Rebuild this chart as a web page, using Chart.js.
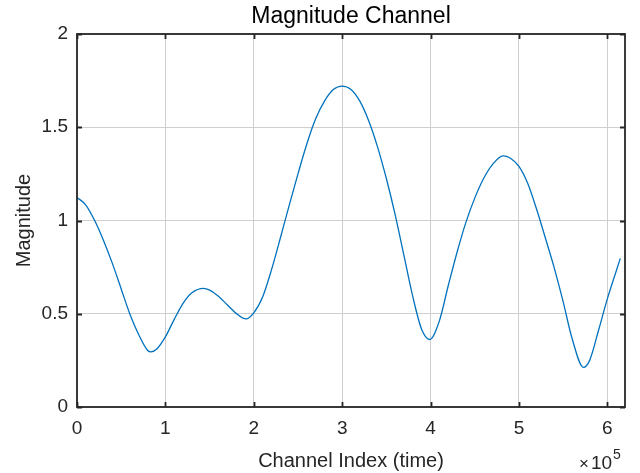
<!DOCTYPE html>
<html>
<head>
<meta charset="utf-8">
<script src="https://cdn.jsdelivr.net/npm/chart.js@4/dist/chart.umd.min.js"></script>
<style>
  html, body { margin: 0; padding: 0; background: #ffffff; }
  #wrap { width: 640px; height: 473px; }
</style>
</head>
<body>
<div id="wrap"><canvas id="c" width="640" height="473"></canvas></div>
<script>
// ---- data (channel index in units of 1e5) ----
const channelIndex = [0, 0.1, 0.2, 0.3, 0.4, 0.5, 0.6, 0.7, 0.8, 0.835,
  0.9, 1.0, 1.1, 1.2, 1.3, 1.43, 1.5, 1.6, 1.7, 1.8,
  1.91, 2.0, 2.1, 2.2, 2.3, 2.4, 2.5, 2.6, 2.7, 2.8,
  2.9, 3.0, 3.1, 3.2, 3.3, 3.4, 3.5, 3.6, 3.7, 3.8,
  3.9, 3.99, 4.1, 4.2, 4.3, 4.4, 4.5, 4.6, 4.7, 4.82,
  4.9, 5.0, 5.1, 5.2, 5.3, 5.4, 5.5, 5.6, 5.73, 5.8,
  5.9, 6.0, 6.1, 6.147];
const magnitude = [1.124, 1.083, 1.000, 0.893, 0.770, 0.633, 0.496, 0.386, 0.303, 0.296,
  0.310, 0.376, 0.470, 0.556, 0.612, 0.636, 0.627, 0.594, 0.548, 0.502,
  0.472, 0.505, 0.590, 0.735, 0.905, 1.080, 1.250, 1.410, 1.545, 1.640,
  1.702, 1.721, 1.703, 1.640, 1.535, 1.395, 1.225, 1.030, 0.810, 0.590,
  0.415, 0.362, 0.462, 0.650, 0.830, 0.990, 1.120, 1.225, 1.300, 1.347,
  1.335, 1.290, 1.198, 1.060, 0.905, 0.745, 0.565, 0.370, 0.212, 0.250,
  0.410, 0.580, 0.728, 0.797];
const indexScale = 100000;
const xTickValues = [0, 1, 2, 3, 4, 5, 6];
const yTickValues = [0, 0.5, 1, 1.5, 2];
const xRange = [0, 6.2];
const yRange = [0, 2];
const titleText = 'Magnitude Channel';
const xLabel = 'Channel Index (time)';
const yLabel = 'Magnitude';
const xExponent = '5';

const points = channelIndex.map((x, i) => ({ x: x * indexScale, y: magnitude[i] }));
const FONT = "'Liberation Sans', Arial, Helvetica, sans-serif";
const TXT = '#262626';

const boxPlugin = {
  id: 'matlabBox',
  afterDraw(chart) {
    const ctx = chart.ctx;
    const a = chart.chartArea;
    const xs = chart.scales.x, ys = chart.scales.y;
    ctx.save();
    ctx.strokeStyle = TXT;
    ctx.lineWidth = 1.8;
    const tl = 5;
    xTickValues.forEach(v => {
      const px = Math.round(xs.getPixelForValue(v * indexScale)) + 0.5;
      ctx.beginPath();
      ctx.moveTo(px, a.bottom); ctx.lineTo(px, a.bottom - tl);
      ctx.moveTo(px, a.top); ctx.lineTo(px, a.top + tl);
      ctx.stroke();
    });
    yTickValues.forEach(v => {
      const py = Math.round(ys.getPixelForValue(v)) + 0.5;
      ctx.beginPath();
      ctx.moveTo(a.left, py); ctx.lineTo(a.left + tl, py);
      ctx.moveTo(a.right, py); ctx.lineTo(a.right - tl, py);
      ctx.stroke();
    });
    ctx.strokeRect(a.left, a.top, a.right - a.left, a.bottom - a.top);
    // title
    ctx.fillStyle = '#000000';
    ctx.font = "23px " + FONT;
    ctx.textAlign = 'center';
    ctx.textBaseline = 'middle';
    ctx.fillText(titleText, (a.left + a.right) / 2, 17);
    // exponent label
    ctx.fillStyle = TXT;
    ctx.textAlign = 'left';
    ctx.textBaseline = 'alphabetic';
    ctx.font = "17px " + FONT;
    ctx.fillText('\u00d7', 579, 469);
    ctx.font = "19px " + FONT;
    ctx.fillText('10', 591, 469);
    ctx.font = "14px " + FONT;
    ctx.fillText(xExponent, 613, 459);
    ctx.restore();
  }
};

new Chart(document.getElementById('c'), {
  type: 'scatter',
  data: {
    datasets: [{
      data: points,
      showLine: true,
      borderColor: '#0072BD',
      borderWidth: 1.3,
      pointRadius: 0,
      cubicInterpolationMode: 'monotone',
      fill: false
    }]
  },
  options: {
    responsive: false,
    animation: false,
    devicePixelRatio: 1,
    layout: { padding: { top: 34, right: 15, bottom: 0, left: 0 } },
    plugins: { legend: { display: false }, tooltip: { enabled: false }, title: { display: false } },
    scales: {
      x: {
        type: 'linear',
        min: xRange[0] * indexScale, max: xRange[1] * indexScale,
        afterBuildTicks: s => { s.ticks = xTickValues.map(v => ({ value: v * indexScale })); },
        afterFit: s => { s.height = 66; },
        border: { display: false },
        grid: { color: '#cfcfcf', lineWidth: 1, drawTicks: false, borderDash: [1, 1] },
        ticks: {
          color: TXT, padding: 10, maxRotation: 0,
          font: { family: FONT, size: 19 },
          callback: v => String(v / indexScale)
        },
        title: { display: true, text: xLabel, color: TXT, font: { family: FONT, size: 20 }, padding: { top: 0, bottom: 0 } }
      },
      y: {
        type: 'linear',
        min: yRange[0], max: yRange[1],
        afterBuildTicks: s => { s.ticks = yTickValues.map(v => ({ value: v })); },
        afterFit: s => { s.width = 77; },
        border: { display: false },
        grid: { color: '#cfcfcf', lineWidth: 1, drawTicks: false, borderDash: [1, 1] },
        ticks: {
          color: TXT, padding: 9,
          font: { family: FONT, size: 19 },
          callback: v => String(v)
        },
        title: { display: true, text: yLabel, color: TXT, font: { family: FONT, size: 20 }, padding: { top: 12, bottom: 0 } }
      }
    }
  },
  plugins: [boxPlugin]
});
</script>
</body>
</html>
